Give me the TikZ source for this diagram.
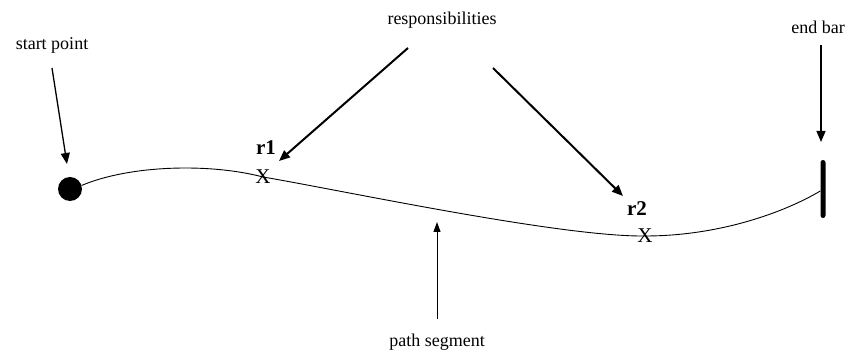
\documentclass[tikz,border=0pt]{standalone}
\usepackage{fontspec}
\setmainfont{Liberation Serif}
\usetikzlibrary{arrows.meta}

\begin{document}
\begin{tikzpicture}[
    x=1pt, y=-1pt,
    lbl/.style={font=\fontsize{18}{20}\selectfont, inner sep=0pt},
    resp/.style={font=\fontsize{21}{23}\selectfont\bfseries, inner sep=0pt},
    xmark/.style={font=\fontsize{21}{23}\selectfont, inner sep=0pt},
    arr/.style={-{Triangle[length=11pt,width=9pt]}, line width=1.6pt},
    thinarr/.style={-{Triangle[length=10pt,width=7pt]}, line width=1pt},
  ]
  \useasboundingbox (0,0) rectangle (852,352);

  % Path elements
  \node[circle, fill, minimum size=24pt, inner sep=0pt] (start) at (70,189) {};
  \node[fill, minimum width=5pt, minimum height=58pt, inner sep=0pt, rounded corners=2.5pt] (endbar) at (823,189) {};
  \node[xmark] (x1) at (263,177) {X};
  \node[xmark] (x2) at (645,236) {X};
  \node[resp] (r1) at (266,148) {r1};
  \node[resp] (r2) at (637,209) {r2};

  % Path segment
  \draw[line width=0.9pt] (start.17) .. controls (130,165) and (210,163) .. (x1.center)
    .. controls (340,190) and (560,237) .. (x2.center)
    .. controls (720,236) and (785,212) .. ([yshift=-2pt]endbar.west);

  % Labels
  \node[lbl] (startlbl) at (52,45) {start point};
  \node[lbl] (resplbl) at (442,20) {responsibilities};
  \node[lbl] (endlbl) at (818,27) {end bar};
  \node[lbl] (seglbl) at (437,342) {path segment};

  % Arrow ends
  \coordinate (st-tail) at (52,68);
  \coordinate (st-tip) at (67,164);
  \coordinate (eb-tail) at (821,45);
  \coordinate (eb-tip) at (821,142);
  \coordinate (r1-tail) at (408,48);
  \coordinate (r1-tip) at (279,161);
  \coordinate (r2-tail) at (493,68);
  \coordinate (r2-tip) at (623,196);
  \coordinate (ps-tail) at (437,319);
  \coordinate (ps-tip) at (437,222);

  % Arrows
  \draw[arr, line width=1.3pt] (st-tail) -- (st-tip);
  \draw[arr, line width=1.3pt] (eb-tail) -- (eb-tip);
  \draw[arr, line width=2pt] (r1-tail) -- (r1-tip);
  \draw[arr, line width=2pt] (r2-tail) -- (r2-tip);
  \draw[thinarr] (ps-tail) -- (ps-tip);
\end{tikzpicture}
\end{document}
